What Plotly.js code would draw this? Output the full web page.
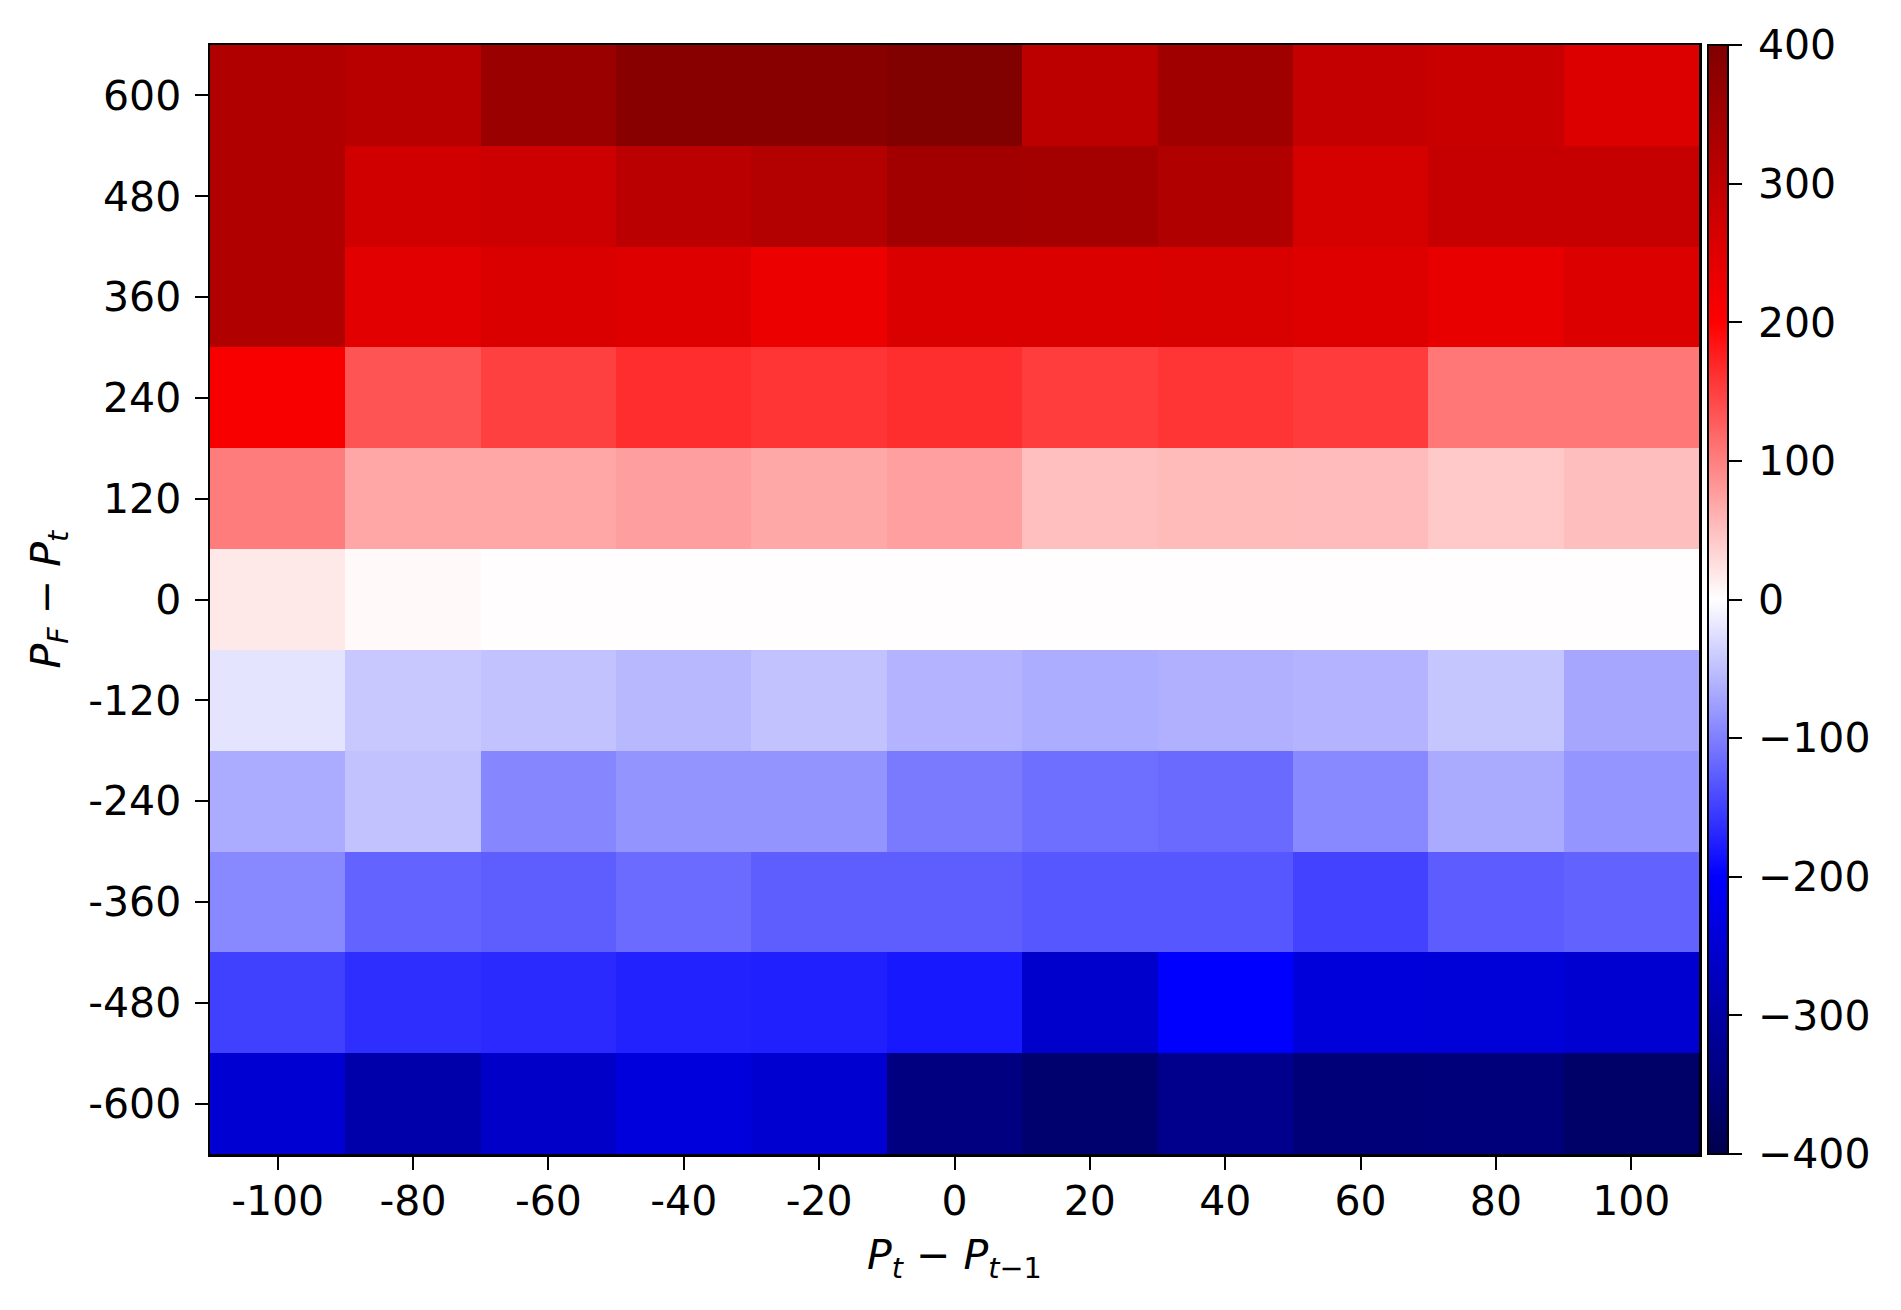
<!DOCTYPE html>
<html>
<head>
<meta charset="utf-8">
<script src="https://cdn.plot.ly/plotly-3.0.1.min.js"></script>
<style>html,body{margin:0;padding:0;background:#fff;}#chart{width:1901px;height:1310px;}</style>
</head>
<body>
<div id="chart"></div>
<script>
// x categories: P_t - P_{t-1}
var xValues = [-100, -80, -60, -40, -20, 0, 20, 40, 60, 80, 100];
var xTickText = ["-100", "-80", "-60", "-40", "-20", "0", "20", "40", "60", "80", "100"];
// y categories: P_F - P_t
var yValues = [-600, -480, -360, -240, -120, 0, 120, 240, 360, 480, 600];
var yTickText = ["-600", "-480", "-360", "-240", "-120", "0", "120", "240", "360", "480", "600"];

// cell values per row (left to right)
var rowM600 = [-251, -295, -262, -239, -253, -342, -362, -329, -351, -349, -369];
var rowM480 = [-150, -164, -167, -173, -175, -181, -257, -200, -241, -243, -253];
var rowM360 = [-93, -122, -126, -116, -126, -126, -132, -132, -148, -128, -123];
var rowM240 = [-66, -48, -95, -84, -84, -104, -114, -117, -93, -67, -83];
var rowM120 = [-21, -43, -48, -56, -48, -60, -64, -62, -60, -45, -70];
var row0    = [18, 5, 1.5, 1.5, 1.5, 1.5, 1.5, 1.5, 1.5, 1.5, 1.5];
var row120  = [103, 70, 70, 76, 68, 75, 50, 54, 53, 42, 51];
var row240  = [211, 134, 150, 165, 159, 164, 152, 159, 154, 107, 107];
var row360  = [325, 245, 256, 252, 230, 258, 259, 260, 252, 236, 255];
var row480  = [325, 274, 280, 308, 319, 346, 341, 325, 266, 289, 289];
var row600  = [325, 311, 358, 388, 387, 399, 305, 349, 291, 286, 255];

var cbTickVals = [-400, -300, -200, -100, 0, 100, 200, 300, 400];
var cbTickText = ["\u2009\u2212400", "\u2009\u2212300", "\u2009\u2212200", "\u2009\u2212100", "\u20090", "\u2009100", "\u2009200", "\u2009300", "\u2009400"];

var zRows = [rowM600, rowM480, rowM360, rowM240, rowM120, row0, row120, row240, row360, row480, row600];

// matplotlib "seismic"
var seismic = [
  [0.0, 'rgb(0,0,77)'],
  [0.25, 'rgb(0,0,255)'],
  [0.5, 'rgb(255,255,255)'],
  [0.75, 'rgb(255,0,0)'],
  [1.0, 'rgb(128,0,0)']
];

var FONT = 'DejaVu Sans, sans-serif';
var FS = 41;

var L = 210, R = 1699, T = 45, B = 1154;
var W = 1901, H = 1310;

var trace = {
  type: 'heatmap',
  x: xValues,
  y: yValues,
  z: zRows,
  zmin: -400,
  zmax: 400,
  colorscale: seismic,
  colorbar: {
    x: (1708 - L) / (R - L),
    xanchor: 'left',
    y: 0.5,
    yanchor: 'middle',
    len: 1,
    lenmode: 'fraction',
    thickness: 20,
    thicknessmode: 'pixels',
    xpad: 0,
    ypad: 0,
    outlinewidth: 2,
    outlinecolor: '#000',
    ticks: 'outside',
    ticklen: 13,
    tickwidth: 2,
    tickcolor: '#000',
    tickmode: 'array',
    tickvals: cbTickVals,
    ticktext: cbTickText,
    tickfont: {family: FONT, size: FS, color: '#000'}
  }
};

var layout = {
  width: W,
  height: H,
  margin: {l: L, r: W - R, t: T, b: H - B, pad: 0},
  paper_bgcolor: '#fff',
  plot_bgcolor: '#fff',
  showlegend: false,
  font: {family: FONT, size: FS, color: '#000'},
  xaxis: {
    range: [-110, 110],
    tickmode: 'array',
    tickvals: xValues,
    ticktext: xTickText,
    ticks: 'outside',
    ticklen: 13,
    tickwidth: 2,
    tickcolor: '#000',
    ticklabelstandoff: -4,
    showgrid: false,
    zeroline: false,
    showline: true,
    linecolor: '#000',
    linewidth: 2.5,
    mirror: true,
    tickfont: {family: FONT, size: FS, color: '#000'},
    automargin: false
  },
  yaxis: {
    range: [-660, 660],
    tickmode: 'array',
    tickvals: yValues,
    ticktext: yTickText,
    ticks: 'outside',
    ticklen: 13,
    tickwidth: 2,
    tickcolor: '#000',
    ticklabelstandoff: 5,
    showgrid: false,
    zeroline: false,
    showline: true,
    linecolor: '#000',
    linewidth: 2.5,
    mirror: true,
    tickfont: {family: FONT, size: FS, color: '#000'},
    automargin: false
  },
  annotations: [
    {
      xref: 'paper', yref: 'paper',
      x: 0.5, y: (B - 1258) / (B - T),
      xanchor: 'center', yanchor: 'middle',
      showarrow: false,
      text: '<i>P</i><sub><i>t</i></sub> \u2212 <i>P</i><sub><i>t</i>\u22121</sub>',
      font: {family: FONT, size: FS, color: '#000'}
    },
    {
      xref: 'paper', yref: 'paper',
      x: (48 - L) / (R - L), y: 0.5,
      xanchor: 'center', yanchor: 'middle',
      textangle: -90,
      showarrow: false,
      text: '<i>P</i><sub><i>F</i></sub> \u2212 <i>P</i><sub><i>t</i></sub>',
      font: {family: FONT, size: FS, color: '#000'}
    }
  ]
};

Plotly.newPlot('chart', [trace], layout, {displayModeBar: false, staticPlot: true});
</script>
</body>
</html>
